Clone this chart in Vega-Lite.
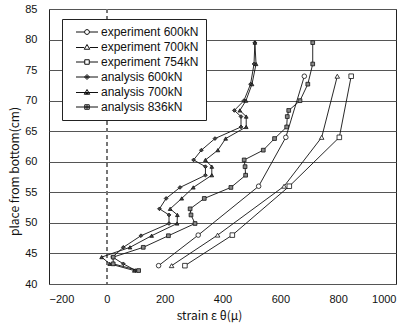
{
  "$schema": "https://vega.github.io/schema/vega-lite/v6.json",
  "width": 347,
  "height": 275,
  "autosize": {"type": "none"},
  "padding": {"left": 49, "top": 9, "right": 10, "bottom": 48},
  "background": "white",
  "config": {
    "view": {"stroke": "#222", "strokeWidth": 1},
    "font": "Liberation Sans",
    "axis": {"labelFont": "Liberation Sans", "titleFont": "Noto Sans CJK JP", "labelColor": "#111", "titleColor": "#111", "titleFontWeight": "normal", "labelFontSize": 11}
  },
  "resolve": {"scale": {"shape": "independent"}},
  "data": {
    "values": [
      {"series": "experiment 600kN", "x": 179, "y": 43},
      {"series": "experiment 600kN", "x": 316, "y": 48},
      {"series": "experiment 600kN", "x": 525, "y": 56},
      {"series": "experiment 600kN", "x": 619, "y": 64},
      {"series": "experiment 600kN", "x": 683, "y": 74},
      {"series": "experiment 700kN", "x": 224, "y": 43},
      {"series": "experiment 700kN", "x": 383, "y": 48},
      {"series": "experiment 700kN", "x": 613, "y": 56},
      {"series": "experiment 700kN", "x": 743, "y": 64},
      {"series": "experiment 700kN", "x": 797, "y": 74},
      {"series": "experiment 754kN", "x": 270, "y": 43},
      {"series": "experiment 754kN", "x": 434, "y": 48},
      {"series": "experiment 754kN", "x": 631, "y": 56},
      {"series": "experiment 754kN", "x": 804, "y": 64},
      {"series": "experiment 754kN", "x": 845, "y": 74},

      {"series": "analysis 600kN", "x": 512, "y": 79.5},
      {"series": "analysis 600kN", "x": 509, "y": 76},
      {"series": "analysis 600kN", "x": 497, "y": 72.7},
      {"series": "analysis 600kN", "x": 474, "y": 70},
      {"series": "analysis 600kN", "x": 441, "y": 68.4},
      {"series": "analysis 600kN", "x": 464, "y": 67.4},
      {"series": "analysis 600kN", "x": 464, "y": 65.7},
      {"series": "analysis 600kN", "x": 374, "y": 63.8},
      {"series": "analysis 600kN", "x": 327, "y": 61.9},
      {"series": "analysis 600kN", "x": 300, "y": 60.3},
      {"series": "analysis 600kN", "x": 341, "y": 59.2},
      {"series": "analysis 600kN", "x": 341, "y": 57.8},
      {"series": "analysis 600kN", "x": 253, "y": 55.8},
      {"series": "analysis 600kN", "x": 205, "y": 54},
      {"series": "analysis 600kN", "x": 182, "y": 52.3},
      {"series": "analysis 600kN", "x": 215, "y": 51.3},
      {"series": "analysis 600kN", "x": 215, "y": 49.9},
      {"series": "analysis 600kN", "x": 118, "y": 47.9},
      {"series": "analysis 600kN", "x": 57, "y": 46},
      {"series": "analysis 600kN", "x": 20, "y": 44.4},
      {"series": "analysis 600kN", "x": 57, "y": 43.3},
      {"series": "analysis 600kN", "x": 100, "y": 42.2},

      {"series": "analysis 700kN", "x": 512, "y": 79.5},
      {"series": "analysis 700kN", "x": 516, "y": 76},
      {"series": "analysis 700kN", "x": 502, "y": 72.7},
      {"series": "analysis 700kN", "x": 481, "y": 70},
      {"series": "analysis 700kN", "x": 460, "y": 68.4},
      {"series": "analysis 700kN", "x": 482, "y": 67.4},
      {"series": "analysis 700kN", "x": 482, "y": 65.7},
      {"series": "analysis 700kN", "x": 411, "y": 63.8},
      {"series": "analysis 700kN", "x": 384, "y": 61.9},
      {"series": "analysis 700kN", "x": 341, "y": 60.3},
      {"series": "analysis 700kN", "x": 363, "y": 59.2},
      {"series": "analysis 700kN", "x": 363, "y": 57.8},
      {"series": "analysis 700kN", "x": 299, "y": 55.8},
      {"series": "analysis 700kN", "x": 259, "y": 54},
      {"series": "analysis 700kN", "x": 219, "y": 52.3},
      {"series": "analysis 700kN", "x": 244, "y": 51.3},
      {"series": "analysis 700kN", "x": 243, "y": 49.9},
      {"series": "analysis 700kN", "x": 155, "y": 47.9},
      {"series": "analysis 700kN", "x": 80, "y": 46},
      {"series": "analysis 700kN", "x": -18, "y": 44.4},
      {"series": "analysis 700kN", "x": 10, "y": 43.3},
      {"series": "analysis 700kN", "x": 95, "y": 42.2},

      {"series": "analysis 836kN", "x": 712, "y": 79.5},
      {"series": "analysis 836kN", "x": 712, "y": 76},
      {"series": "analysis 836kN", "x": 695, "y": 72.7},
      {"series": "analysis 836kN", "x": 668, "y": 70},
      {"series": "analysis 836kN", "x": 629, "y": 68.4},
      {"series": "analysis 836kN", "x": 624, "y": 67.4},
      {"series": "analysis 836kN", "x": 622, "y": 65.7},
      {"series": "analysis 836kN", "x": 580, "y": 63.8},
      {"series": "analysis 836kN", "x": 541, "y": 61.9},
      {"series": "analysis 836kN", "x": 475, "y": 60.3},
      {"series": "analysis 836kN", "x": 478, "y": 59.2},
      {"series": "analysis 836kN", "x": 480, "y": 57.8},
      {"series": "analysis 836kN", "x": 429, "y": 55.8},
      {"series": "analysis 836kN", "x": 337, "y": 54},
      {"series": "analysis 836kN", "x": 288, "y": 52.3},
      {"series": "analysis 836kN", "x": 291, "y": 51.3},
      {"series": "analysis 836kN", "x": 305, "y": 49.9},
      {"series": "analysis 836kN", "x": 213, "y": 47.9},
      {"series": "analysis 836kN", "x": 126, "y": 46},
      {"series": "analysis 836kN", "x": 22, "y": 44.4},
      {"series": "analysis 836kN", "x": 22, "y": 43.3},
      {"series": "analysis 836kN", "x": 110, "y": 42.2}
    ]
  },
  "layer": [
    {
      "mark": {"type": "rule", "stroke": "#777", "strokeWidth": 1, "strokeDash": [4, 3]},
      "encoding": {"x": {"datum": 0, "type": "quantitative"}}
    },
    {
      "mark": {"type": "line", "stroke": "#111", "strokeWidth": 0.9},
      "encoding": {
        "x": {
          "field": "x", "type": "quantitative",
          "scale": {"domain": [-200, 1000], "nice": false, "zero": false},
          "axis": {"values": [-200, 0, 200, 400, 600, 800, 1000], "tickCount": 20, "format": "d", "labelOverlap": false, "grid": false, "ticks": false, "domain": false, "labelPadding": 9, "title": "strain ε θ(μ)", "titleFontSize": 12, "titlePadding": 6, "titleX": 160, "titleAnchor": "middle"}
        },
        "y": {
          "field": "y", "type": "quantitative",
          "scale": {"domain": [40, 85], "nice": false, "zero": false},
          "axis": {"values": [40, 45, 50, 55, 60, 65, 70, 75, 80, 85], "tickCount": 20, "labelOverlap": false, "labelBound": false, "grid": true, "gridColor": "#555", "gridWidth": 1, "ticks": false, "domain": false, "labelPadding": 12, "title": "place from bottom(cm)", "titleFontSize": 12, "titlePadding": 3, "titleY": 162, "titleAnchor": "middle"}
        },
        "detail": {"field": "series"},
        "order": {"field": "y", "type": "quantitative"}
      }
    },
    {
      "mark": {"type": "point", "filled": true, "stroke": "#111", "strokeWidth": 0.8, "opacity": 1},
      "encoding": {
        "x": {"field": "x", "type": "quantitative"},
        "y": {"field": "y", "type": "quantitative"},
        "shape": {
          "field": "series", "type": "nominal",
          "scale": {
            "domain": ["experiment 600kN", "experiment 700kN", "experiment 754kN", "analysis 600kN", "analysis 700kN", "analysis 836kN"],
            "range": ["circle", "triangle-up", "square", "diamond", "triangle-up", "square"]
          },
          "legend": null
        },
        "fill": {
          "condition": [
            {"test": "datum.series == 'analysis 836kN'", "value": "#888"},
            {"test": "indexof(datum.series, 'analysis') == 0", "value": "#444"}
          ],
          "value": "white"
        },
        "size": {
          "condition": {"test": "indexof(datum.series, 'analysis') == 0", "value": 14},
          "value": 21
        }
      }
    },
    {
      "transform": [{"filter": "datum.x > 5000"}],
      "mark": {"type": "point", "filled": false, "color": "#111", "strokeWidth": 1, "opacity": 1},
      "encoding": {
        "x": {"field": "x", "type": "quantitative"},
        "y": {"field": "y", "type": "quantitative"},
        "shape": {
          "field": "series", "type": "nominal",
          "scale": {
            "domain": ["experiment 600kN", "experiment 700kN", "experiment 754kN", "analysis 600kN", "analysis 700kN", "analysis 836kN"],
            "range": [
              "M-2.2,0H-0.5M0.5,0H2.2M-0.5,0L-0.35,-0.35L0,-0.5L0.35,-0.35L0.5,0L0.35,0.35L0,0.5L-0.35,0.35Z",
              "M-2.2,0.1H-0.55M0.55,0.1H2.2M0,-0.5L0.55,0.45L-0.55,0.45Z",
              "M-2.2,0H-0.45M0.45,0H2.2M-0.45,-0.45H0.45V0.45H-0.45Z",
              "M-2.2,0H2.2M0,-0.5L0.5,0L0,0.5L-0.5,0ZM0,-0.25L0.25,0L0,0.25L-0.25,0Z",
              "M-2.2,0.1H2.2M0,-0.5L0.55,0.45L-0.55,0.45ZM0,0L0.25,0.3L-0.25,0.3Z",
              "M-2.2,0H2.2M-0.45,-0.45H0.45V0.45H-0.45ZM-0.2,-0.2H0.2V0.2H-0.2Z"
            ]
          },
          "legend": {
            "title": null,
            "orient": "none",
            "legendX": 13,
            "legendY": 10,
            "direction": "vertical",
            "fillColor": "white",
            "strokeColor": "#222",
            "padding": 7,
            "rowPadding": 3,
            "symbolSize": 100,
            "symbolOffset": 12,
            "labelOffset": 8,
            "labelFontSize": 12,
            "labelFont": "Liberation Sans",
            "labelColor": "#111",
            "symbolStrokeWidth": 1,
            "encode": {
              "symbols": {
                "fill": {
                  "condition": [
                    {"test": "datum.value == 'analysis 836kN'", "value": "#777"},
                    {"test": "datum.value == 'experiment 754kN'", "value": "#bbb"},
                    {"test": "indexof(datum.value, 'analysis') == 0", "value": "#333"}
                  ],
                  "value": "white"
                },
                "stroke": {"value": "#111"},
                "strokeWidth": {"value": 1},
                "opacity": {"value": 1}
              }
            }
          }
        }
      }
    }
  ]
}
